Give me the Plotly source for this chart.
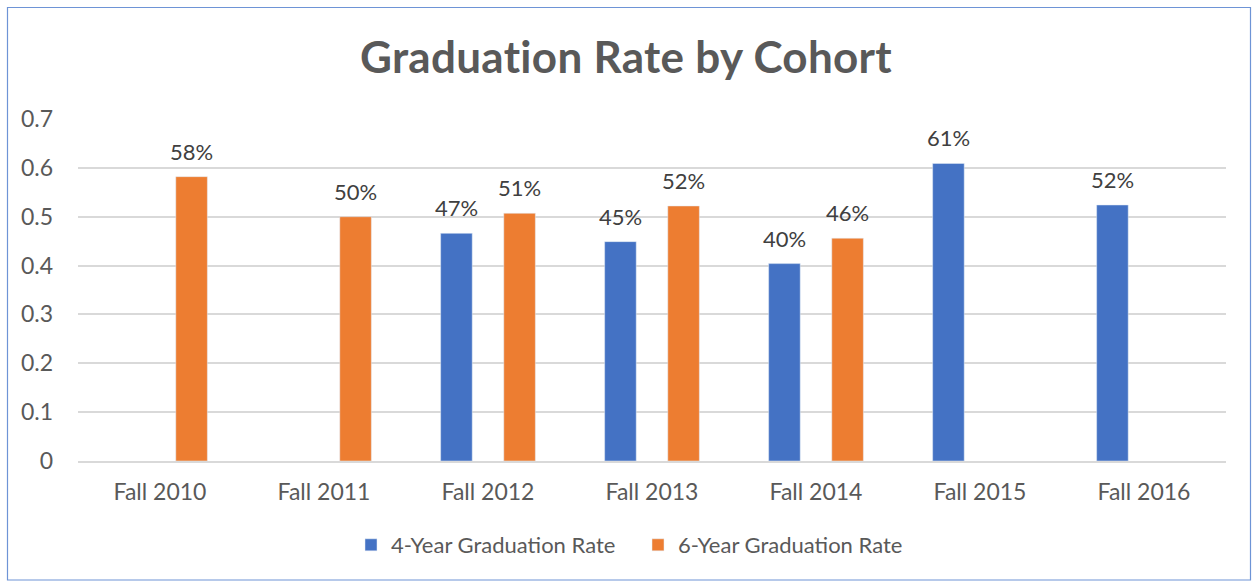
import plotly.graph_objects as go

categories = ["Fall 2010", "Fall 2011", "Fall 2012", "Fall 2013", "Fall 2014", "Fall 2015", "Fall 2016"]
four_year = [None, None, 0.466, 0.449, 0.404, 0.609, 0.524]
six_year = [0.582, 0.500, 0.507, 0.522, 0.456, None, None]
y_ticks = [0, 0.1, 0.2, 0.3, 0.4, 0.5, 0.6, 0.7]

BLUE = "#4472C4"
ORANGE = "#ED7D31"
FONT = "Lato"

L, R, T, B = 78, 26, 119, 120
W, H = 1252, 581
pw, ph = W - L - R, H - T - B
BARGAP = 0.23
cat_w = pw / len(categories)
offset = cat_w * (1 - BARGAP) / 4

fig = go.Figure()
fig.add_trace(go.Bar(x=categories, y=four_year, name="4-Year Graduation Rate", marker_color=BLUE))
fig.add_trace(go.Bar(x=categories, y=six_year, name="6-Year Graduation Rate", marker_color=ORANGE))

for vals, sh in ((four_year, -offset), (six_year, offset)):
    for c, v in zip(categories, vals):
        if v is None:
            continue
        fig.add_annotation(x=c, y=v, text=f"{round(v * 100)}%", showarrow=False,
                           xshift=sh, yshift=10, yanchor="bottom", xanchor="center",
                           font=dict(size=22, color="#404040", family=FONT))


def px_x(p):
    return (p - L) / pw


def px_y(p):
    return (H - B - p) / ph


fig.update_layout(
    width=W, height=H,
    margin=dict(l=L, r=R, t=T, b=B),
    paper_bgcolor="white", plot_bgcolor="white",
    barmode="group", bargap=BARGAP, bargroupgap=0.5,
    font=dict(family=FONT, color="#595959", size=23),
    title=dict(text='<b><span style="letter-spacing:0.3px">Graduation Rate by Cohort</span></b>',
               x=0.5, xanchor="center", y=1 - 58 / H, yanchor="middle",
               font=dict(size=44, color="#595959", family=FONT)),
    xaxis=dict(showline=True, linecolor="#D9D9D9", linewidth=1.5, ticks="",
               ticklabelstandoff=10, tickfont=dict(size=23, color="#595959")),
    yaxis=dict(range=[0, 0.7], tickvals=y_ticks, ticktext=[f"{v:g}" for v in y_ticks],
               showgrid=True, gridcolor="#D9D9D9", gridwidth=1.5, zeroline=False,
               showline=False, ticks="", ticklabelstandoff=24,
               tickfont=dict(size=23, color="#595959")),
    legend=dict(orientation="h", x=0.5 - 14 / pw, xanchor="center", y=px_y(545), yanchor="middle",
                font=dict(size=22, color="#595959"), itemwidth=30, traceorder="normal",
                entrywidth=242, entrywidthmode="pixels"),
    showlegend=True,
)

fig.add_shape(type="rect", xref="paper", yref="paper",
              x0=px_x(7.5), x1=px_x(1250.5), y0=px_y(580), y1=px_y(7.5),
              line=dict(color="#6E94D6", width=1.2), fillcolor="rgba(0,0,0,0)", layer="below")

fig.write_html("out.html", config={"displayModeBar": False},
               post_script="document.body.style.margin='0';document.body.style.overflow='hidden';")
